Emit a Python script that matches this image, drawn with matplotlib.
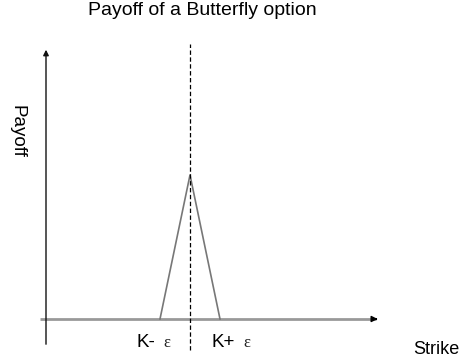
import matplotlib.pyplot as plt

# strike and payoff of the butterfly: zero outside K-eps..K+eps, peak at K
K = 4.8
eps = 1.0
strikes = [K - eps, K, K + eps]
payoffs = [0.0, eps, 0.0]
tick_labels = ["K-", "K+"]

plt.rcParams['font.family'] = ['Liberation Sans', 'DejaVu Sans']

fig = plt.figure(figsize=(4.63, 3.62), dpi=100)
ax = fig.add_axes([0, 0, 1, 1])
ax.set_xlim(-46 / 30, 417 / 30)
ax.set_ylim(-43 / 144, 319 / 144)
ax.axis("off")

# x axis (gray) with a black head
ax.plot([-0.2, 11.0], [0, 0], color="#999999", lw=2.0, solid_capstyle="butt")
ax.annotate("", xy=(11.15, 0), xytext=(10.9, 0),
            arrowprops=dict(arrowstyle="-|>", color="black", lw=1, mutation_scale=9))
# y axis
ax.annotate("", xy=(0, 1.87), xytext=(0, -0.175),
            arrowprops=dict(arrowstyle="-|>", color="#111111", lw=1.0, mutation_scale=8,
                            shrinkA=0, shrinkB=0))

# payoff triangle
ax.plot(strikes, payoffs, color="#777777", lw=1.2)
# strike K
ax.plot([K, K], [-0.215, 1.91], color="black", lw=0.9, linestyle=(0, (3.5, 2)))

# labels
fs = 13.5
ax.text(K - eps - 0.77, -0.195, tick_labels[0], fontsize=fs, va="baseline", ha="left")
ax.text(K - eps + 0.1, -0.195, "ε", fontsize=12, va="baseline", ha="left",
        family="Liberation Serif", color="#222222")
ax.text(K + eps - 0.27, -0.195, tick_labels[1], fontsize=fs, va="baseline", ha="left")
ax.text(K + eps + 0.77, -0.195, "ε", fontsize=12, va="baseline", ha="left",
        family="Liberation Serif", color="#222222")
ax.text(12.23, -0.244, "Strike", fontsize=13, va="baseline", ha="left")
fig.text(26 / 463, 1 - 131 / 362, "Payoff", fontsize=fs, rotation=-90,
         ha="right", va="center")
fig.text(202 / 463, 1 - 15 / 362, "Payoff of a Butterfly option", fontsize=14,
         ha="center", va="baseline")

fig.savefig("out.png", dpi=100)
